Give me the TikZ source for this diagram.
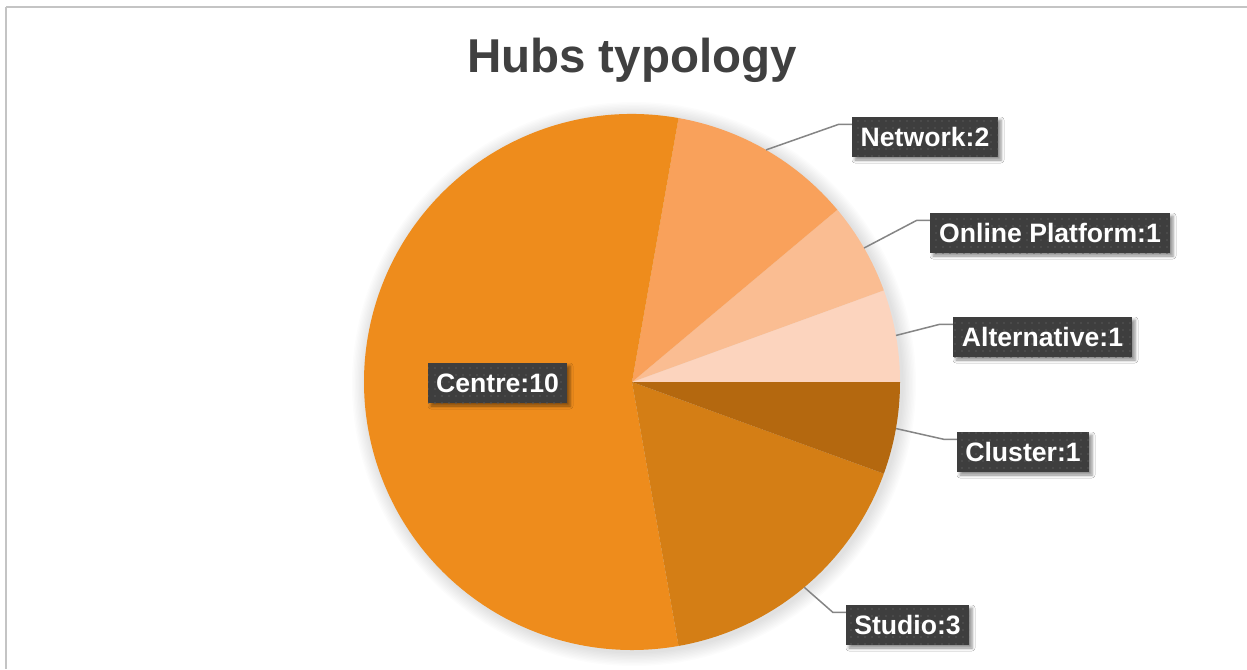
\documentclass[tikz,border=0pt]{standalone}
\usepackage{fontspec}
\setmainfont{Liberation Sans}
\usetikzlibrary{calc,shadows.blur,patterns.meta}

\definecolor{centreC}{HTML}{EE8C1C}
\definecolor{netC}{HTML}{F9A15B}
\definecolor{onlineC}{HTML}{FABD92}
\definecolor{altC}{HTML}{FCD4BE}
\definecolor{clusterC}{HTML}{B4680F}
\definecolor{studioC}{HTML}{D47E15}
\definecolor{labelbg}{HTML}{3E3E3E}
\definecolor{dotC}{HTML}{575757}
\definecolor{titleC}{HTML}{404040}
\definecolor{frameC}{HTML}{C4C4C4}
\definecolor{leaderC}{HTML}{858585}

\begin{document}
\begin{tikzpicture}[x=1pt,y=-1pt,
  lbl/.style={fill=labelbg, text=white,
    font=\bfseries\fontsize{26.6}{30}\selectfont,
    minimum height=40pt, inner sep=0pt,
    blur shadow={shadow xshift=3pt, shadow yshift=-3pt,
      shadow blur radius=3pt, shadow opacity=45},
    postaction={pattern={Dots[distance=6.5pt,radius=0.9pt]}, pattern color=dotC}},
  leader/.style={draw=leaderC, line width=1.5pt},
  titlestyle/.style={text=titleC, font=\bfseries\fontsize{47.5}{52}\selectfont, inner sep=0pt}]

\useasboundingbox (0,0) rectangle (1247,669);
\fill[white] (0,0) rectangle (1247,669);

% chart frame
\draw[frameC, line width=1.5pt] (6,7) -- (1247,7);
\draw[frameC, line width=2.2pt] (6,7) -- (6,669);

% title
\node[titlestyle, anchor=base] (title) at (632,72) {Hubs typology};

% pie centre and soft shadow
\coordinate (c) at (632,382);
\foreach \i in {1,...,10}
  \fill[black, opacity=0.013] ($(c)+(2,2)$) circle[radius=268+\i*1.4];

% slices (angles measured counter-clockwise from east)
\foreach \a/\b/\col in {0/20/altC, 20/40/onlineC, 40/80/netC,
                        80/280/centreC, 280/340/studioC, 340/360/clusterC}
  \fill[\col] (c) -- ++(-\a:268) arc[start angle=-\a, end angle=-\b, radius=268] -- cycle;

% labels
\node[lbl, minimum width=146pt] (net)     at (925,137)   {Network:2};
\node[lbl, minimum width=240pt] (online)  at (1050,233)  {Online Platform:1};
\node[lbl, minimum width=179pt] (alt)     at (1042.5,337){Alternative:1};
\node[lbl, minimum width=132pt] (cluster) at (1023,452)  {Cluster:1};
\node[lbl, minimum width=123pt] (studio)  at (907.5,625) {Studio:3};
\node[lbl, minimum width=139pt] (centre)  at (497.5,383) {Centre:10};

% leader lines from slice edge to label
\foreach \n/\ang in {net/60, online/30, alt/10, cluster/-10, studio/-50} {
  \coordinate (p\n) at ($(c)+(-\ang:268)$);
  \coordinate (a\n) at ($(\n.north west)+(0,7.5)$);
  \draw[leader] (p\n) -- ($(a\n)+(-13,0)$) -- (a\n);
}
\end{tikzpicture}
\end{document}
